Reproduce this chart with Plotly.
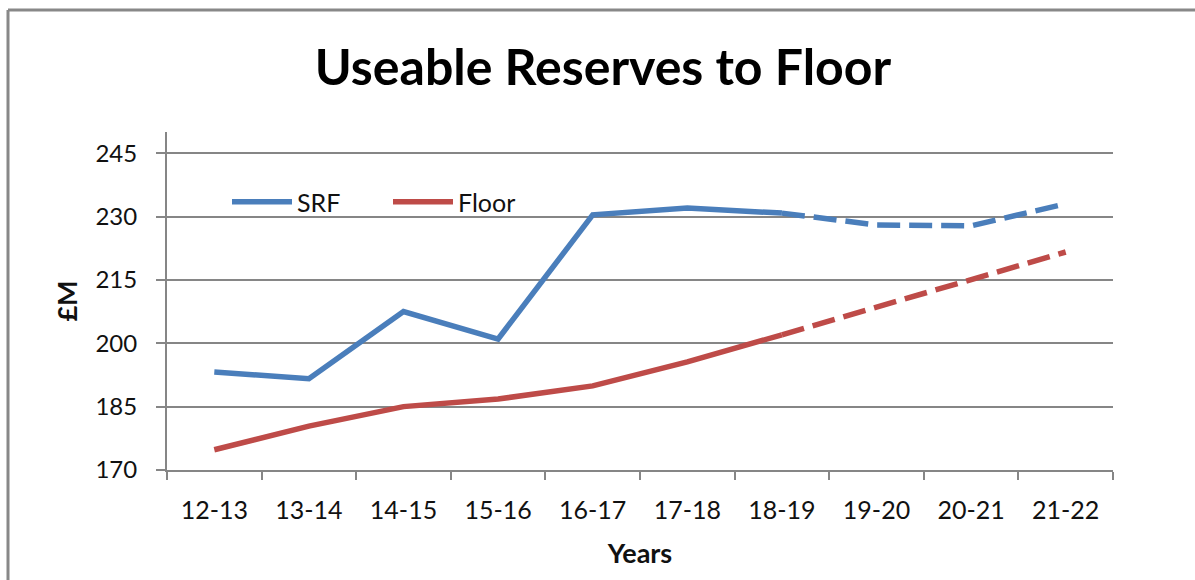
import plotly.graph_objects as go

years = ["12-13", "13-14", "14-15", "15-16", "16-17", "17-18", "18-19", "19-20", "20-21", "21-22"]
srf = [193.2, 191.6, 207.5, 201.0, 230.4, 232.0, 230.8, 228.0, 227.8, 233.0]
floor = [174.8, 180.4, 185.0, 186.8, 189.9, 195.6, 202.0, 208.5, 215.0, 221.6]
split = 6  # last actual year index (solid up to here, dashed afterwards)

BLUE = "#4A7EBB"
RED = "#BE4B48"
GRID = "#868686"

fig = go.Figure()
fig.add_trace(go.Scatter(x=years[:split + 1], y=srf[:split + 1], mode="lines", name="SRF",
                         line=dict(color=BLUE, width=5.5)))
fig.add_trace(go.Scatter(x=years[split:], y=srf[split:], mode="lines", name="SRF (forecast)",
                         showlegend=False, line=dict(color=BLUE, width=5.5, dash="23px,9px")))
fig.add_trace(go.Scatter(x=years[:split + 1], y=floor[:split + 1], mode="lines", name="Floor",
                         line=dict(color=RED, width=5.5)))
fig.add_trace(go.Scatter(x=years[split:], y=floor[split:], mode="lines", name="Floor (forecast)",
                         showlegend=False, line=dict(color=RED, width=5.5, dash="23px,9px")))

L, R, T, B = 167, 1113, 132, 470
W, H = R - L, B - T

def px(x):
    return (x - L) / W

def py(y):
    return (B - y) / H

fig.update_layout(
    width=1195, height=580,
    margin=dict(l=L, r=1195 - R, t=T, b=580 - B),
    paper_bgcolor="white", plot_bgcolor="white",
    font=dict(family="Lato, Open Sans, sans-serif", size=25, color="#111111"),
    title=dict(text="<b>Useable Reserves to Floor</b>", x=603 / 1195, xanchor="center",
               y=1 - 67 / 580, yanchor="middle",
               font=dict(family="Lato, Open Sans, sans-serif", size=50, color="black")),
    showlegend=True,
    legend=dict(orientation="h", x=px(227), y=py(202), xanchor="left", yanchor="middle",
                bgcolor="rgba(0,0,0,0)", font=dict(size=25), itemwidth=60,
                tracegroupgap=0, entrywidth=86),
    xaxis=dict(
        type="category", tickson="boundaries", ticks="outside", ticklen=8, tickwidth=2,
        tickcolor=GRID, showline=True, linecolor=GRID, linewidth=2, showgrid=False,
        ticklabelstandoff=17, tickfont=dict(size=25),
        title=dict(text="<b>Years</b>", font=dict(size=27), standoff=21),
        range=[-0.5, len(years) - 0.5],
    ),
    yaxis=dict(
        range=[170, 250], tickmode="array", tickvals=[170, 185, 200, 215, 230, 245],
        ticks="outside", ticklen=9, tickwidth=2, tickcolor=GRID,
        showline=True, linecolor=GRID, linewidth=2,
        showgrid=True, gridcolor=GRID, gridwidth=2, zeroline=False,
        ticklabelstandoff=14, tickfont=dict(size=24),
        title=dict(text="<b>£M</b>", font=dict(size=27), standoff=10),
    ),
    shapes=[
        dict(type="line", xref="paper", yref="paper", x0=px(8), x1=px(1200), y0=py(10), y1=py(10),
             line=dict(color="#888888", width=3)),
        dict(type="line", xref="paper", yref="paper", x0=px(8), x1=px(8), y0=py(10), y1=py(590),
             line=dict(color="#888888", width=3)),
    ],
)

fig.write_html("out.html")
